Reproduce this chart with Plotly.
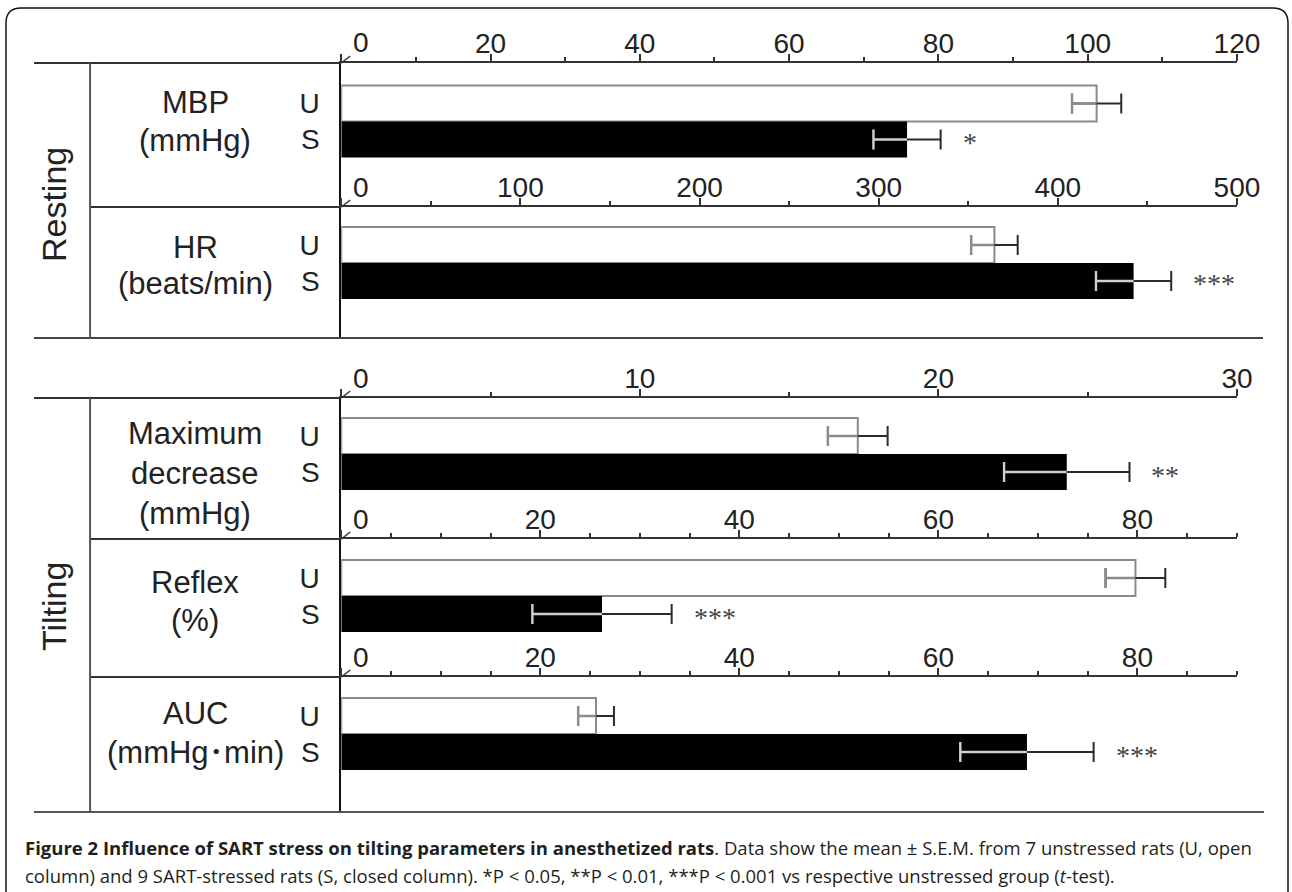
import plotly.graph_objects as go

# ---------------- data ----------------
parameters = ["MBP", "HR", "Maximum decrease", "Reflex", "AUC"]
row_labels = [["MBP", "(mmHg)"], ["HR", "(beats/min)"],
              ["Maximum", "decrease", "(mmHg)"], ["Reflex", "(%)"],
              ["AUC", "(mmHg･min)"]]
groups = ["U", "S"]
unstressed_mean = [101.2, 364.6, 17.3, 79.8, 25.6]
unstressed_sem = [3.3, 13.0, 1.0, 3.0, 1.8]
stressed_mean = [75.8, 442.3, 24.3, 26.2, 68.9]
stressed_sem = [4.5, 21.0, 2.1, 7.0, 6.7]
significance = ["*", "***", "**", "***", "***"]
axis_max = [120, 500, 30, 90, 90]
label_step = [20, 100, 10, 20, 20]
minor_step = [10, 50, 5, 5, 5]
sections = ["Resting", "Tilting"]
caption_1 = ("<b>Figure 2 Influence of SART stress on tilting parameters in anesthetized rats</b>. "
             "Data show the mean ± S.E.M. from 7 unstressed rats (U, open")
caption_2 = ("column) and 9 SART-stressed rats (S, closed column). *P &lt; 0.05, **P &lt; 0.01, "
             "***P &lt; 0.001 vs respective unstressed group (<i>t</i>-test).")

# ---------------- layout constants (pixels of the target picture) ----------------
W, H = 1292, 892
FIG_W = 1316  # page is photographed slightly squeezed horizontally
X0, X1 = 341, 1236
panel_top = [63, 207, 398, 539, 677]
panel_bot = [207, 338, 539, 677, 812]
bar_top = [85.5, 227, 418, 560, 698]
BAR_H = 36
row_label_y = [[102, 140], [247, 283], [434, 473, 513], [582, 620], [713, 752]]
section_y = [205, 607]

LABEL_FONT = "Liberation Sans, Arial, sans-serif"
TXT = "#222222"
LINE = "#333333"


def px(x):
    return x / W


def py(y):
    return 1 - y / H


fig = go.Figure()
annotations = []
shapes = []
layout = {}

CAP = 10 / BAR_H  # half cap height in y units

for i in range(5):
    sfx = "" if i == 0 else str(i + 1)
    xref, yref = "x" + sfx, "y" + sfx
    top, bot, bt = panel_top[i], panel_bot[i], bar_top[i]
    y_top_val = -(bt + BAR_H / 2 - top) / BAR_H
    y_bot_val = 1 + (bot - (bt + 1.5 * BAR_H)) / BAR_H

    tickvals = list(range(0, axis_max[i] + 1, label_step[i]))
    ticktext = ["" if v == 0 else str(v) for v in tickvals]

    layout["xaxis" + sfx] = dict(
        domain=[px(X0), px(X1)], range=[0, axis_max[i]], side="top",
        anchor=yref, showgrid=False, zeroline=False, showline=True,
        linecolor=LINE, linewidth=2, ticks="outside", ticklen=7,
        tickwidth=2, tickcolor=LINE, tickvals=tickvals, ticktext=ticktext,
        tickfont=dict(family=LABEL_FONT, size=28, color=TXT),
        ticklabelstandoff=-10,
        minor=dict(dtick=minor_step[i], tick0=0, ticks="outside", ticklen=4,
                   tickwidth=2, tickcolor=LINE, showgrid=False),
        fixedrange=True,
    )
    layout["yaxis" + sfx] = dict(
        domain=[py(bot), py(top)], range=[y_bot_val, y_top_val],
        anchor=xref, showgrid=False, zeroline=False, showline=True,
        linecolor="#111111", linewidth=2, ticks="",
        tickvals=[0, 1], ticktext=groups,
        tickfont=dict(family=LABEL_FONT, size=28, color=TXT),
        ticklabelstandoff=14, fixedrange=True,
    )

    fig.add_trace(go.Bar(
        x=[unstressed_mean[i]], y=[0], orientation="h", width=1,
        xaxis=xref, yaxis=yref, showlegend=False,
        marker=dict(color="white", line=dict(color="#8a8a8a", width=2)),
        error_x=dict(type="data", array=[unstressed_sem[i]], color="#2a2a2a",
                     thickness=2, width=10),
    ))
    fig.add_trace(go.Bar(
        x=[stressed_mean[i]], y=[1], orientation="h", width=1,
        xaxis=xref, yaxis=yref, showlegend=False,
        marker=dict(color="black", line=dict(width=0)),
        error_x=dict(type="data", array=[stressed_sem[i]], color="#2a2a2a",
                     thickness=2, width=10),
    ))
    for pos, m, s, col in [(0, unstressed_mean[i], unstressed_sem[i], "#8c8c8c"),
                           (1, stressed_mean[i], stressed_sem[i], "#cfcfcf")]:
        lo = m - s
        fig.add_trace(go.Scatter(
            x=[lo, lo, None, lo, m], y=[pos - CAP, pos + CAP, None, pos, pos],
            mode="lines", line=dict(color=col, width=2.4),
            xaxis=xref, yaxis=yref, showlegend=False, hoverinfo="skip",
        ))

    annotations.append(dict(
        x=stressed_mean[i] + stressed_sem[i], y=1, xref=xref, yref=yref,
        text=significance[i], showarrow=False, xanchor="left", yanchor="middle",
        xshift=20, yshift=-3,
        font=dict(family="Liberation Serif, Times New Roman, serif", size=28, color="#444444"),
    ))
    annotations.append(dict(
        x=0, y=py(top - 20), xref=xref, yref="paper", text="0", showarrow=False,
        xanchor="left", yanchor="middle", xshift=10,
        font=dict(family=LABEL_FONT, size=28, color=TXT),
    ))
    shapes.append(dict(type="line", xref="paper", yref="paper",
                       x0=px(X0), y0=py(top), x1=px(X0 + 9), y1=py(top - 7),
                       line=dict(color=LINE, width=1.5)))
    for txt, yy in zip(row_labels[i], row_label_y[i]):
        annotations.append(dict(
            x=px(195), y=py(yy), xref="paper", yref="paper", text=txt,
            showarrow=False, xanchor="center", yanchor="middle",
            font=dict(family=LABEL_FONT + ", Noto Sans CJK JP", size=31, color=TXT),
        ))

for txt, yy in zip(sections, section_y):
    annotations.append(dict(
        x=px(54), y=py(yy), xref="paper", yref="paper", text=txt, textangle=-90,
        showarrow=False, xanchor="center", yanchor="middle",
        font=dict(family=LABEL_FONT, size=34, color=TXT),
    ))


def hline(y, xa, xb, w=2, c=LINE):
    shapes.append(dict(type="line", xref="paper", yref="paper", x0=px(xa), x1=px(xb),
                       y0=py(y), y1=py(y), line=dict(color=c, width=w)))


def vline(x, ya, yb, w=2, c=LINE):
    shapes.append(dict(type="line", xref="paper", yref="paper", x0=px(x), x1=px(x),
                       y0=py(ya), y1=py(yb), line=dict(color=c, width=w)))


hline(63, 34, X0)
hline(398, 34, X0)
for yy in [207, 539, 677]:
    hline(yy, 90, X0)
hline(338, 34, 1262, c="#444444")
hline(812, 34, 1263, c="#555555")
vline(90, 63, 338, c="#555555")
vline(90, 398, 812, c="#555555")

r = 15
x0, x1, yt, yb = 6, 1287, 8, 905
path = (f"M {px(x0)},{py(yb)} L {px(x0)},{py(yt + r)} Q {px(x0)},{py(yt)} {px(x0 + r)},{py(yt)} "
        f"L {px(x1 - r)},{py(yt)} Q {px(x1)},{py(yt)} {px(x1)},{py(yt + r)} L {px(x1)},{py(yb)}")
shapes.append(dict(type="path", xref="paper", yref="paper", path=path,
                   line=dict(color="#111111", width=1.5)))

for txt, yy in [(caption_1, 847), (caption_2, 875)]:
    annotations.append(dict(
        x=px(23), y=py(yy), xref="paper", yref="paper", text=txt, showarrow=False,
        xanchor="left", yanchor="middle", align="left",
        font=dict(family="Open Sans, sans-serif", size=18.5, color="#231f20"),
    ))

fig.update_layout(
    width=FIG_W, height=H, margin=dict(l=0, r=0, t=0, b=0),
    paper_bgcolor="white", plot_bgcolor="rgba(0,0,0,0)",
    barmode="overlay", showlegend=False,
    annotations=annotations, shapes=shapes, **layout,
)

fig.write_html(
    "out.html",
    config={"displayModeBar": False},
    post_script="document.body.style.margin='0';document.body.style.overflow='hidden';",
)
